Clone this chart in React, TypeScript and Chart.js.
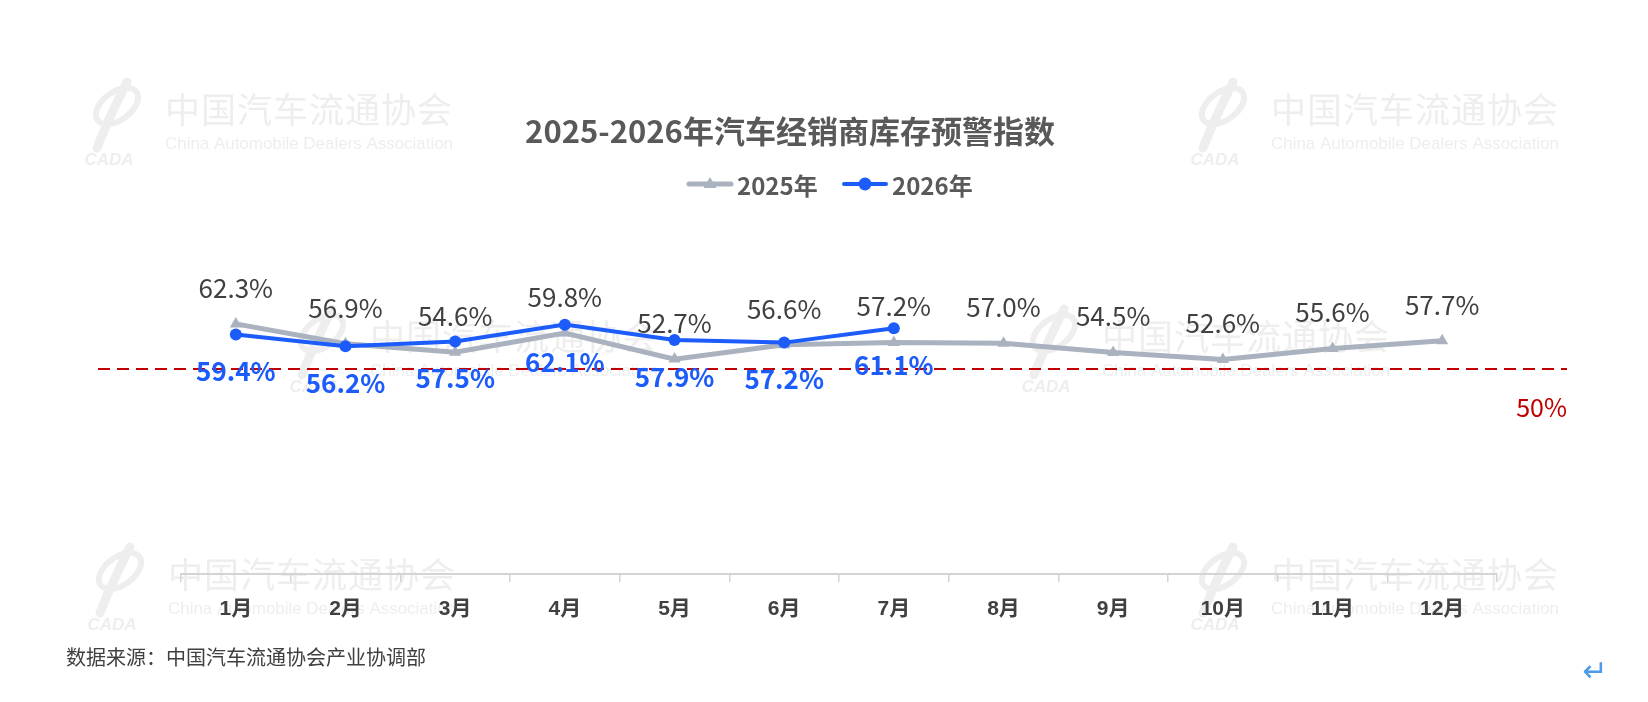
import React, { useEffect, useRef } from 'react';
import { Chart, registerables } from 'chart.js';

Chart.register(...registerables);

const categories = ['1月', '2月', '3月', '4月', '5月', '6月', '7月', '8月', '9月', '10月', '11月', '12月'];
const values2025 = [62.3, 56.9, 54.6, 59.8, 52.7, 56.6, 57.2, 57.0, 54.5, 52.6, 55.6, 57.7];
const values2026 = [59.4, 56.2, 57.5, 62.1, 57.9, 57.2, 61.1];
const seriesNames = ['2025年', '2026年'];
const thresholdValue = 50;
const thresholdLabel = '50%';
const titleText = '2025-2026年汽车经销商库存预警指数';
const sourceText = '数据来源：中国汽车流通协会产业协调部';
const watermarkCN = '中国汽车流通协会';
const watermarkEN = 'China Automobile Dealers Association';
const watermarkLogo = 'CADA';

const FONT = '"Noto Sans CJK SC", "Noto Sans", sans-serif';
const AXIS_FONT = '"Liberation Sans", Arial, "Noto Sans CJK SC", sans-serif';
const GRAY = '#AAB2BF';
const BLUE = '#1B5CFA';
const TEXT_DARK = '#404040';
const TITLE_COLOR = '#595959';
const RED = '#C00000';
const WM = '#EEEEEE';

const W = 1648;
const H = 702;

// watermark anchors: [text left, chinese text centre y]
const WATERMARKS: [number, number][] = [
  [165, 110],
  [1271, 110],
  [370, 337],
  [1102, 337],
  [168, 575],
  [1271, 575],
];

function drawWatermark(ctx: CanvasRenderingContext2D, x: number, y: number) {
  ctx.save();
  ctx.fillStyle = WM;
  ctx.strokeStyle = WM;
  ctx.textBaseline = 'middle';
  ctx.textAlign = 'left';
  ctx.font = `400 35px ${FONT}`;
  (ctx as any).letterSpacing = '1px';
  ctx.fillText(watermarkCN, x, y);
  (ctx as any).letterSpacing = '0px';
  ctx.font = `400 17px "Liberation Sans", Arial, sans-serif`;
  const ew = ctx.measureText(watermarkEN).width;
  ctx.save();
  ctx.translate(x, y + 34);
  ctx.scale(288 / ew, 1);
  ctx.fillText(watermarkEN, 0, 0);
  ctx.restore();
  // logo
  const lx = x - 52;
  const ly = y + 2;
  ctx.lineWidth = 6;
  ctx.beginPath();
  ctx.ellipse(lx + 4, ly - 6, 24, 14, -Math.PI / 5, 0, Math.PI * 2);
  ctx.stroke();
  ctx.lineWidth = 9;
  ctx.lineCap = 'round';
  ctx.beginPath();
  ctx.moveTo(lx + 14, ly - 30);
  ctx.quadraticCurveTo(lx - 6, ly + 10, lx - 16, ly + 36);
  ctx.stroke();
  ctx.font = `italic 900 17px "Liberation Sans", Arial, sans-serif`;
  ctx.textAlign = 'center';
  ctx.fillText(watermarkLogo, lx - 4, ly + 48);
  ctx.restore();
}

const decorPlugin = {
  id: 'decor',
  beforeDraw(chart: any) {
    const ctx: CanvasRenderingContext2D = chart.ctx;
    ctx.save();
    ctx.fillStyle = '#ffffff';
    ctx.fillRect(0, 0, chart.width, chart.height);
    WATERMARKS.forEach(([x, y]) => drawWatermark(ctx, x, y));

    // title
    ctx.fillStyle = TITLE_COLOR;
    ctx.textAlign = 'center';
    ctx.textBaseline = 'middle';
    ctx.font = `700 31px ${FONT}`;
    ctx.fillText(titleText, 790, 131);

    // legend
    const items = [
      { name: seriesNames[0], color: GRAY, style: 'triangle', x: 687, lw: 5 },
      { name: seriesNames[1], color: BLUE, style: 'circle', x: 842, lw: 4 },
    ];
    items.forEach((it) => {
      const ly = 184;
      ctx.strokeStyle = it.color;
      ctx.fillStyle = it.color;
      ctx.lineWidth = it.lw;
      ctx.lineCap = 'round';
      ctx.beginPath();
      ctx.moveTo(it.x + 2, ly);
      ctx.lineTo(it.x + 44, ly);
      ctx.stroke();
      const cx = it.x + 23;
      if (it.style === 'circle') {
        ctx.beginPath();
        ctx.arc(cx, ly, 6.5, 0, Math.PI * 2);
        ctx.fill();
      } else {
        ctx.beginPath();
        ctx.moveTo(cx, ly - 7);
        ctx.lineTo(cx + 6.5, ly + 4);
        ctx.lineTo(cx - 6.5, ly + 4);
        ctx.closePath();
        ctx.fill();
      }
      ctx.fillStyle = TITLE_COLOR;
      ctx.textAlign = 'left';
      ctx.font = `700 24px ${FONT}`;
      ctx.fillText(it.name, it.x + 50, ly + 2);
    });

    // source note
    ctx.fillStyle = TEXT_DARK;
    ctx.textAlign = 'left';
    ctx.font = `400 20px ${FONT}`;
    ctx.fillText(sourceText, 66, 657);

    // return mark
    ctx.fillStyle = '#4A9BE8';
    ctx.textAlign = 'center';
    ctx.font = `400 30px "DejaVu Sans", sans-serif`;
    ctx.fillText('\u21B5', 1595, 673);
    ctx.restore();
  },
  beforeDatasetsDraw(chart: any) {
    const ctx: CanvasRenderingContext2D = chart.ctx;
    const y = chart.scales.y.getPixelForValue(thresholdValue);
    ctx.save();
    ctx.strokeStyle = RED;
    ctx.lineWidth = 2;
    ctx.setLineDash([12, 7]);
    ctx.beginPath();
    ctx.moveTo(98, y);
    ctx.lineTo(1567, y);
    ctx.stroke();
    ctx.setLineDash([]);
    ctx.fillStyle = RED;
    ctx.textAlign = 'right';
    ctx.textBaseline = 'middle';
    ctx.font = `400 25px ${FONT}`;
    ctx.fillText(thresholdLabel, 1567, y + 38);
    ctx.restore();
  },
  afterDatasetsDraw(chart: any) {
    const ctx: CanvasRenderingContext2D = chart.ctx;
    ctx.save();
    ctx.textAlign = 'center';
    ctx.textBaseline = 'middle';
    chart.data.datasets.forEach((ds: any, di: number) => {
      const meta = chart.getDatasetMeta(di);
      meta.data.forEach((pt: any, i: number) => {
        const v = ds.data[i];
        if (v === null || v === undefined) return;
        const txt = v.toFixed(1) + '%';
        if (ds.label === seriesNames[0]) {
          ctx.fillStyle = TEXT_DARK;
          ctx.font = `400 26px ${FONT}`;
          ctx.fillText(txt, pt.x, pt.y - 36);
        } else {
          ctx.fillStyle = BLUE;
          ctx.font = `700 26px ${FONT}`;
          ctx.fillText(txt, pt.x, pt.y + 37);
        }
      });
    });
    ctx.restore();
  },
};

export default function App() {
  const ref = useRef<HTMLCanvasElement | null>(null);
  useEffect(() => {
    document.body.style.margin = '0';
    if (!ref.current) return;
    const chart = new Chart(ref.current, {
      type: 'line',
      data: {
        labels: categories,
        datasets: [
          {
            label: seriesNames[0],
            data: values2025,
            borderColor: GRAY,
            backgroundColor: GRAY,
            borderWidth: 5,
            pointStyle: 'triangle',
            pointRadius: 7,
            pointBorderWidth: 0,
            pointBackgroundColor: GRAY,
            tension: 0,
            order: 1,
            clip: false as any,
          },
          {
            label: seriesNames[1],
            data: values2026,
            borderColor: BLUE,
            backgroundColor: BLUE,
            borderWidth: 4,
            pointStyle: 'circle',
            pointRadius: 6,
            pointBorderWidth: 0,
            pointBackgroundColor: BLUE,
            tension: 0,
            order: 0,
            clip: false as any,
          },
        ],
      },
      options: {
        responsive: false,
        animation: false,
        devicePixelRatio: 1,
        layout: { padding: { top: 259, left: 181, right: 151, bottom: 0 } },
        plugins: {
          legend: { display: false },
          title: { display: false },
          tooltip: { enabled: false },
        },
        scales: {
          x: {
            offset: true,
            grid: {
              display: true,
              offset: true,
              drawOnChartArea: false,
              drawTicks: true,
              tickLength: 8,
              color: '#D4D4D4',
              lineWidth: 1.5,
            },
            border: { display: true, color: '#D4D4D4', width: 2 },
            ticks: {
              color: TEXT_DARK,
              padding: 15,
              font: { family: AXIS_FONT, size: 21, weight: 'bold' },
              maxRotation: 0,
              autoSkip: false,
            },
            afterFit: (s: any) => {
              s.height = 128;
            },
          },
          y: {
            display: false,
            min: -5.9,
            max: 80,
          },
        },
      },
      plugins: [decorPlugin],
    });
    return () => chart.destroy();
  }, []);
  return (
    <div style={{ width: W, height: H, overflow: 'hidden' }}>
      <canvas ref={ref} width={W} height={H} style={{ width: W, height: H, display: 'block' }} />
    </div>
  );
}
